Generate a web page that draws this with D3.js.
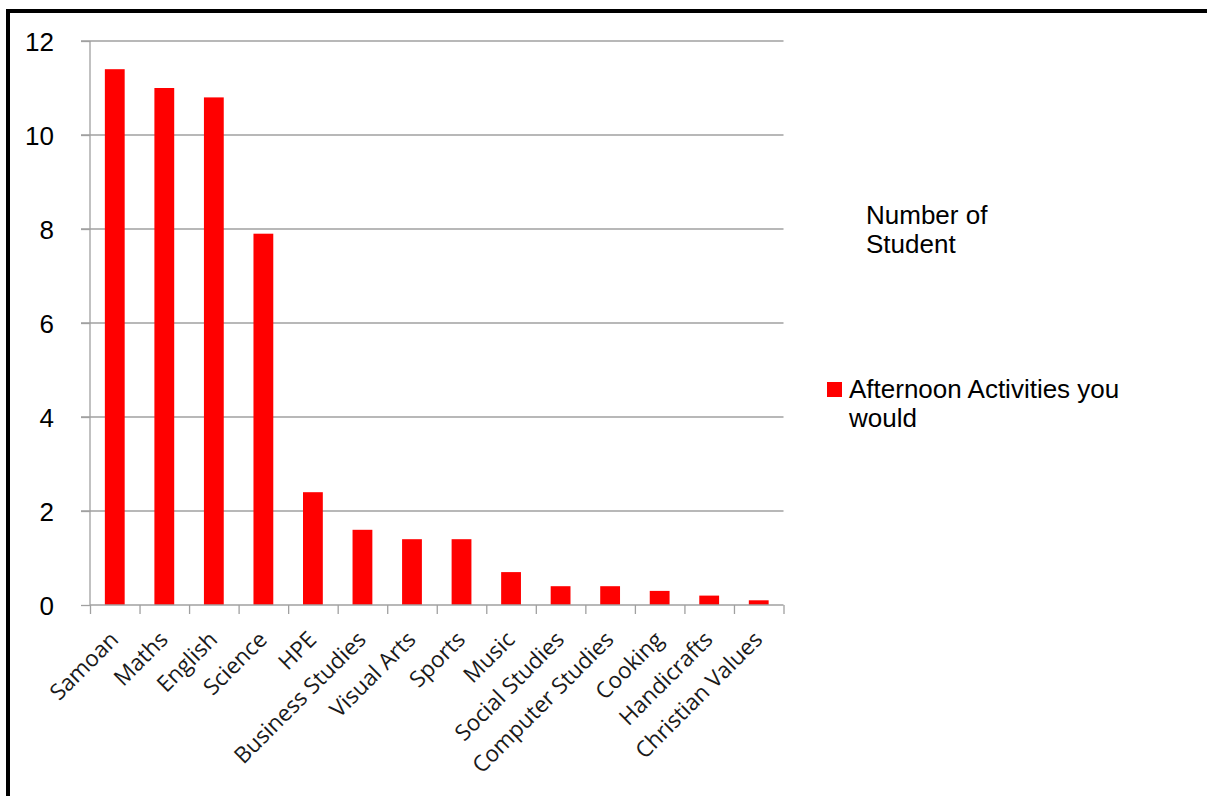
<!DOCTYPE html>
<html><head><meta charset="utf-8">
<script src="https://cdn.jsdelivr.net/npm/d3@7/dist/d3.min.js"></script>
<style>body{margin:0;background:#fff}svg{display:block}</style>
</head><body>
<svg id="c" width="1207" height="796"></svg>
<script>
const categories = ["Samoan","Maths","English","Science","HPE","Business Studies","Visual Arts","Sports","Music","Social Studies","Computer Studies","Cooking","Handicrafts","Christian Values"];
const values = [11.4,11.0,10.8,7.9,2.4,1.6,1.4,1.4,0.7,0.4,0.4,0.3,0.2,0.1];
const yTicks = [0,2,4,6,8,10,12];
const seriesName = ["Afternoon Activities you","would"];
const chartTitle = ["Number of","Student"];

const svg = d3.select("#c");
svg.append("rect").attr("x",8).attr("y",11).attr("width",1250).attr("height",850)
  .attr("fill","none").attr("stroke","#000").attr("stroke-width",4);

const x = d3.scaleBand().domain(categories).range([90,783.5]).paddingInner(0.6).paddingOuter(0.3);
const y = d3.scaleLinear().domain([0,12]).range([605,41]);

// gridlines
svg.append("g").selectAll("line").data(yTicks.filter(d=>d>0)).join("line")
  .attr("x1",81).attr("x2",783.5).attr("y1",d=>y(d)).attr("y2",d=>y(d))
  .attr("stroke","#a0a0a0").attr("stroke-width",1.3);

// y axis
const ya = svg.append("g").attr("transform","translate(90,0)")
  .call(d3.axisLeft(y).tickValues(yTicks).tickSize(9).tickPadding(0).tickFormat(d3.format("d")));
ya.select(".domain").attr("stroke","#a0a0a0").attr("stroke-width",1.3).attr("d","M0,41V605");
ya.selectAll(".tick line").attr("stroke","#a0a0a0").attr("stroke-width",1.3);
ya.selectAll(".tick text").attr("x",-36).attr("dy","0.36em").attr("text-anchor","end")
  .style("font-family","Liberation Sans, Arial, sans-serif").style("font-size","26px").attr("fill","#000");

// bars
svg.append("g").selectAll("rect").data(values).join("rect")
  .attr("x",(d,i)=>x(categories[i])).attr("width",x.bandwidth())
  .attr("y",d=>y(d)).attr("height",d=>y(0)-y(d)).attr("fill","#ff0000");

// x axis
const xb = d3.scaleLinear().domain([0,categories.length]).range([90,783.5]);
const xa = svg.append("g").attr("transform","translate(0,605)")
  .call(d3.axisBottom(xb).tickValues(d3.range(categories.length+1)).tickSize(9).tickFormat(""));
xa.select(".domain").attr("stroke","#a0a0a0").attr("stroke-width",1.3).attr("d","M90,0H783.5");
xa.selectAll(".tick line").attr("stroke","#a0a0a0").attr("stroke-width",1.3);

svg.append("g").selectAll("text").data(categories).join("text")
  .attr("transform",d=>`translate(${x(d)+x.bandwidth()/2+5},${641}) rotate(-45)`)
  .attr("text-anchor","end")
  .style("font-family","Open Sans, sans-serif").style("font-size","22.5px").attr("fill","#1a1a1a")
  .text(d=>d);

// title-like label
svg.append("g").selectAll("text").data(chartTitle).join("text")
  .attr("x",866).attr("y",(d,i)=>224+i*29.2)
  .style("font-family","Liberation Sans, Arial, sans-serif").style("font-size","26px").attr("fill","#000")
  .text(d=>d);

// legend
svg.append("rect").attr("x",827).attr("y",382).attr("width",15).attr("height",15).attr("fill","#ff0000");
svg.append("g").selectAll("text").data(seriesName).join("text")
  .attr("x",849).attr("y",(d,i)=>397.5+i*29.2)
  .style("font-family","Liberation Sans, Arial, sans-serif").style("font-size","26px").attr("fill","#000")
  .text(d=>d);
</script>
</body></html>
